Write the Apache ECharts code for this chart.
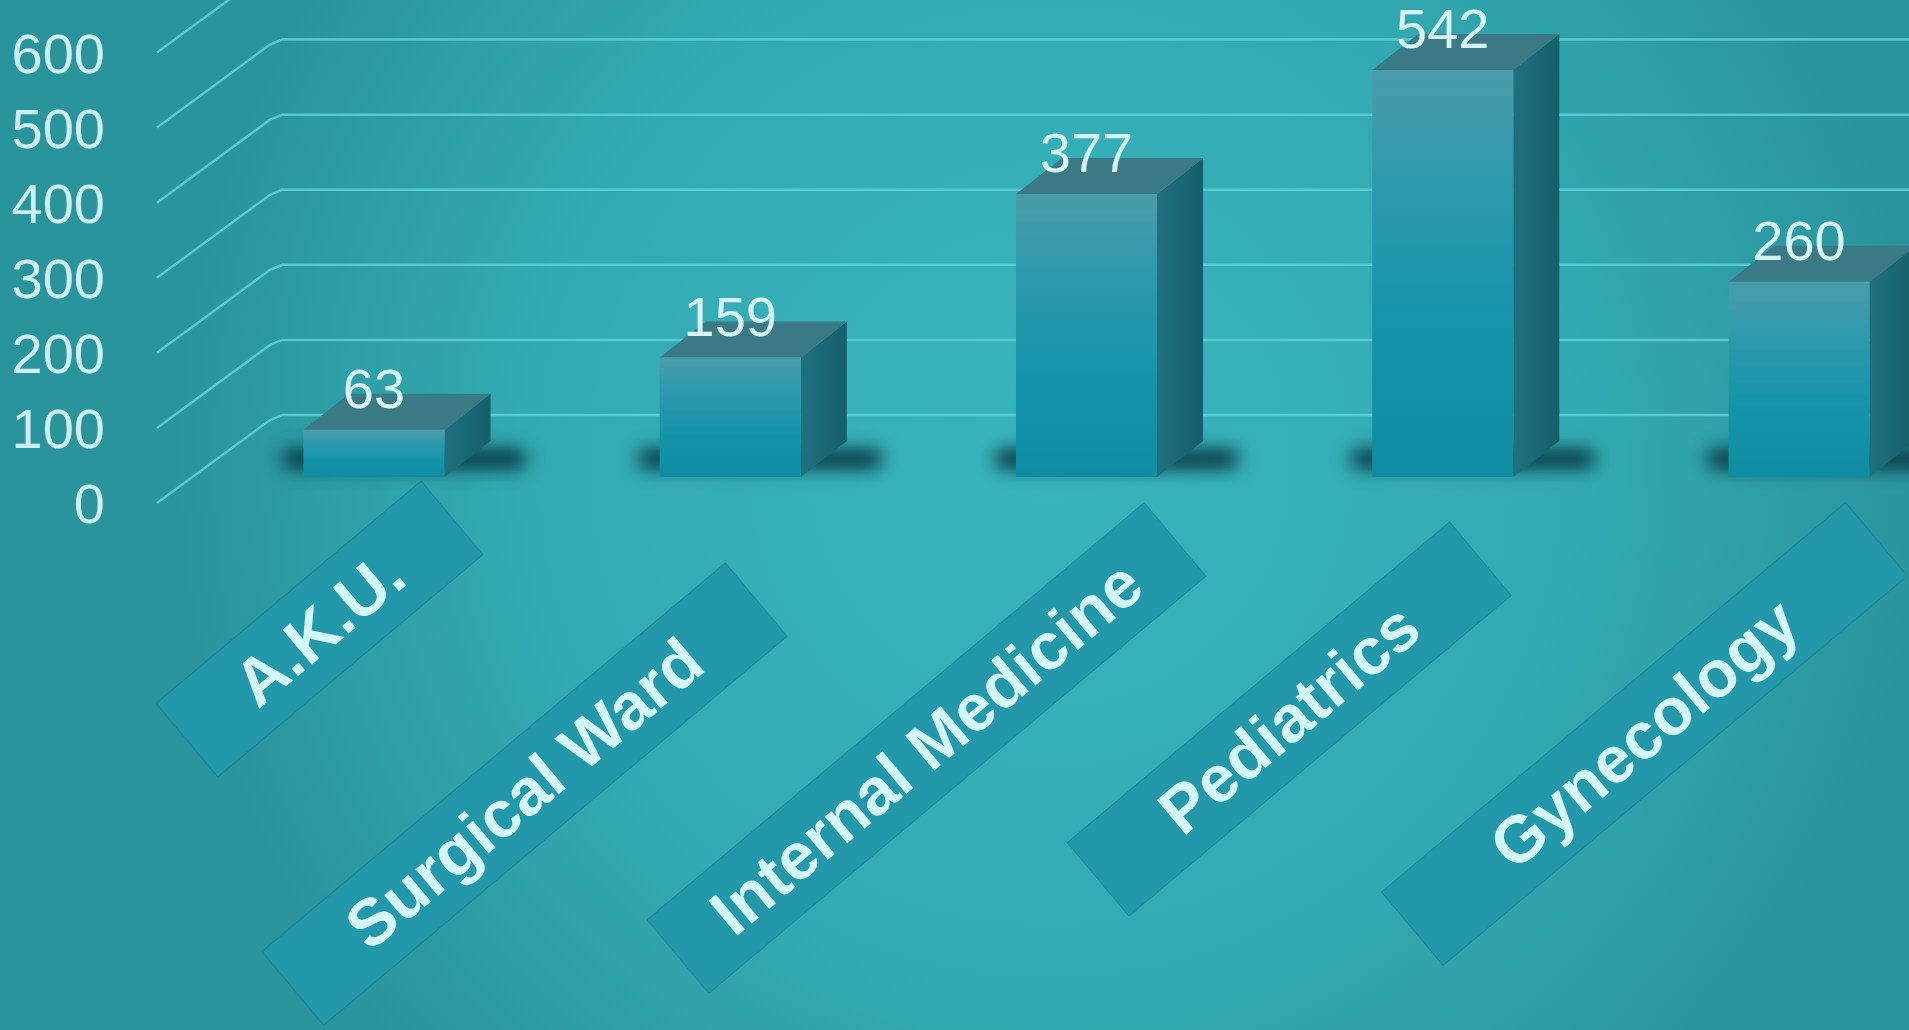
<!DOCTYPE html>
<html>
<head>
<meta charset="utf-8">
<style>
  html, body { margin: 0; padding: 0; width: 100%; height: 100%; overflow: hidden; background: #2e9fa7; }
  #chart { width: 1909px; height: 1030px; }
</style>
<script src="https://cdn.jsdelivr.net/npm/echarts@6/dist/echarts.min.js"></script>
</head>
<body>
<div id="chart"></div>
<script>
// ---- data ----
const categories = ['A.K.U.', 'Surgical Ward', 'Internal Medicine', 'Pediatrics', 'Gynecology'];
const values = [63, 159, 377, 542, 260];
const yTicks = [0, 100, 200, 300, 400, 500, 600];

// ---- layout / style constants ----
const DEPTH_X = 46, DEPTH_Y = -36;          // bar depth (oblique projection)
const WALL_DY = -93;                          // back wall offset from side-wall label plane
const SIDE_X0 = 157, SIDE_X1 = 270;           // side-wall diagonal x span
const LABEL_ROT = 40 * Math.PI / 180;
const BOX_H = 96;
const SHADOW_OFF = 4000;
const catBox = [
  { dx: -54.5, dy: 152, len: 346 },
  { dx: -205.7, dy: 317, len: 605 },
  { dx: -160, dy: 271, len: 649 },
  { dx: -153.5, dy: 242, len: 499 },
  { dx: -154.6, dy: 257, len: 606 }
];
const NUM_FONT = "'Liberation Sans', Arial, sans-serif";

const chart = echarts.init(document.getElementById('chart'), null, { renderer: 'canvas' });

function renderGridLine(params, api) {
  const y = api.coord([0, api.value(1)])[1];
  const W = api.getWidth();
  return {
    type: 'polyline',
    shape: { points: [[SIDE_X0, y - 5], [SIDE_X1, y + WALL_DY + 5], [SIDE_X1 + 12, y + WALL_DY], [W, y + WALL_DY]] },
    style: { stroke: 'rgba(92,206,214,0.9)', lineWidth: 2.5, fill: null }
  };
}

function renderBar(params, api) {
  const i = api.value(0), v = api.value(1);
  const top = api.coord([i, v]);
  const base = api.coord([i, 0]);
  const w = api.size([1, 0])[0] * 0.396;
  const x0 = top[0] - w / 2, x1 = top[0] + w / 2;
  const yt = top[1], yb = base[1];
  const dx = DEPTH_X, dy = DEPTH_Y;
  return {
    type: 'group',
    children: [
      {
        type: 'rect',
        shape: { x: x0 - 22 - SHADOW_OFF, y: yb - 28, width: (x1 + dx + 36) - (x0 - 22), height: 20, r: 10 },
        style: { fill: '#000', shadowBlur: 18, shadowColor: 'rgba(6,56,66,1)', shadowOffsetX: SHADOW_OFF }
      },
      {
        type: 'polygon',
        shape: { points: [[x1, yt], [x1 + dx, yt + dy], [x1 + dx, yb + dy], [x1, yb]] },
        style: {
          fill: new echarts.graphic.LinearGradient(0, 0, 1, 0, [
            { offset: 0, color: '#21707e' },
            { offset: 1, color: '#155f6c' }
          ])
        }
      },
      {
        type: 'polygon',
        shape: { points: [[x0, yt], [x1, yt], [x1 + dx, yt + dy], [x0 + dx, yt + dy]] },
        style: { fill: '#3b7a85' }
      },
      {
        type: 'rect',
        shape: { x: x0, y: yt, width: w, height: yb - yt },
        style: {
          fill: new echarts.graphic.LinearGradient(0, 0, 0, 1, [
            { offset: 0, color: '#4a9cab' },
            { offset: 0.3, color: '#2b99ad' },
            { offset: 0.65, color: '#1594a9' },
            { offset: 1, color: '#0f8ca1' }
          ])
        }
      },
      {
        type: 'text',
        x: top[0], y: yt - 37,
        style: {
          text: String(v), fill: '#d6f3f6', fontSize: 56, fontFamily: NUM_FONT,
          align: 'center', verticalAlign: 'middle'
        }
      }
    ]
  };
}

function renderCat(params, api) {
  const i = api.value(0);
  const base = api.coord([i, 0]);
  const b = catBox[i];
  return {
    type: 'group',
    x: base[0] + b.dx, y: base[1] + b.dy,
    rotation: LABEL_ROT,
    children: [
      {
        type: 'rect',
        shape: { x: -b.len / 2, y: -BOX_H / 2, width: b.len, height: BOX_H },
        style: { fill: '#2298aa', stroke: 'rgba(30,120,132,0.6)', lineWidth: 1 }
      },
      {
        type: 'text',
        x: 0, y: 4,
        style: {
          text: categories[i], fill: '#d4f7fc', fontSize: 66, fontWeight: 'bold',
          fontFamily: "'Liberation Sans', Arial, sans-serif", align: 'center', verticalAlign: 'middle'
        }
      }
    ]
  };
}

const hiddenX = {
  type: 'category', data: categories, boundaryGap: false,
  axisLine: { show: false }, axisTick: { show: false }, axisLabel: { show: false },
  splitLine: { show: false }
};

chart.setOption({
  animation: false,
  backgroundColor: {
    type: 'radial', x: 0.55, y: 0.45, r: 0.85,
    colorStops: [
      { offset: 0, color: '#38b4bd' },
      { offset: 0.6, color: '#32aab3' },
      { offset: 1, color: '#2a949c' }
    ]
  },
  grid: [
    { left: 374, top: 26.5, width: 1425, height: 450.5 },   // bar front plane
    { left: 374, top: 57.5, width: 1425, height: 450.5 }    // side wall / label plane
  ],
  xAxis: [
    Object.assign({ gridIndex: 0 }, hiddenX),
    Object.assign({ gridIndex: 1 }, hiddenX)
  ],
  yAxis: [
    {
      gridIndex: 0, type: 'value', min: 0, max: 600, interval: 100,
      axisLine: { show: false }, axisTick: { show: false }, splitLine: { show: false },
      axisLabel: { show: false }
    },
    {
      gridIndex: 1, type: 'value', min: 0, max: 600, interval: 100,
      axisLine: { show: false }, axisTick: { show: false }, splitLine: { show: false },
      axisLabel: { margin: 269, color: '#cdeef2', fontSize: 56, fontFamily: NUM_FONT }
    }
  ],
  series: [
    {
      type: 'custom', name: 'grid', z: 1, clip: false, silent: true,
      xAxisIndex: 1, yAxisIndex: 1,
      data: yTicks.map(v => [0, v]),
      renderItem: renderGridLine
    },
    {
      type: 'custom', name: 'bars', z: 2, clip: false,
      xAxisIndex: 0, yAxisIndex: 0,
      data: values.map((v, i) => [i, v]),
      renderItem: renderBar
    },
    {
      type: 'custom', name: 'labels', z: 3, clip: false, silent: true,
      xAxisIndex: 0, yAxisIndex: 0,
      data: categories.map((c, i) => [i, 0]),
      renderItem: renderCat
    }
  ]
});
</script>
</body>
</html>
